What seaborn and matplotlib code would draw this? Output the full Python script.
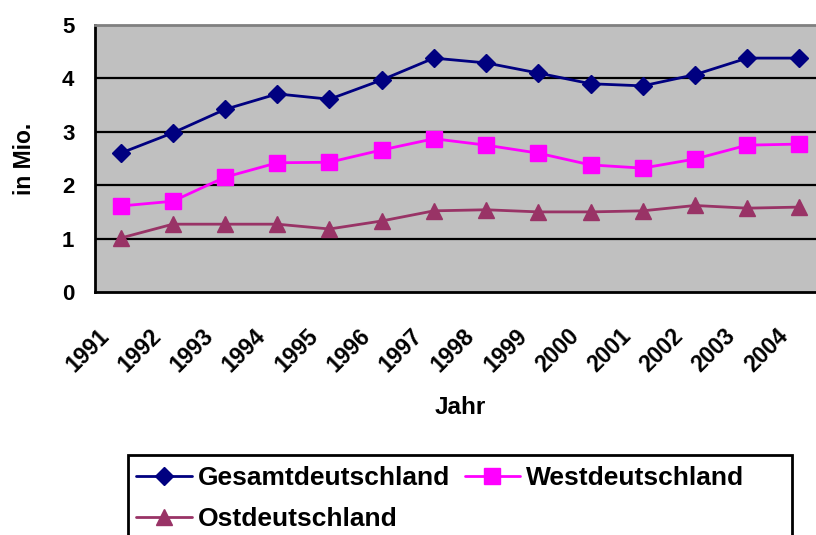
import numpy as np
import pandas as pd
import seaborn as sns
import matplotlib.pyplot as plt
from matplotlib.patches import Rectangle
from matplotlib.transforms import ScaledTranslation

years = ['1991', '1992', '1993', '1994', '1995', '1996', '1997',
         '1998', '1999', '2000', '2001', '2002', '2003', '2004']
gesamt = [2.60, 2.98, 3.42, 3.71, 3.61, 3.97, 4.38, 4.29, 4.10, 3.90, 3.86, 4.07, 4.38, 4.38]
west = [1.61, 1.70, 2.15, 2.42, 2.43, 2.66, 2.87, 2.75, 2.60, 2.38, 2.32, 2.49, 2.75, 2.77]
ost = [1.01, 1.27, 1.27, 1.27, 1.18, 1.33, 1.52, 1.54, 1.50, 1.50, 1.52, 1.62, 1.57, 1.59]

series = ['Gesamtdeutschland', 'Westdeutschland', 'Ostdeutschland']
colors = ['#000080', '#FF00FF', '#993366']
markers = ['D', 's', '^']
msizes = [9.5, 11, 11.5]

df = pd.DataFrame({'Jahr': years, 'Gesamtdeutschland': gesamt,
                   'Westdeutschland': west, 'Ostdeutschland': ost})
df['pos'] = np.arange(len(years))

sns.set_style('white')
plt.rcParams['font.family'] = ['Liberation Sans', 'DejaVu Sans']
plt.rcParams['font.weight'] = 'bold'
plt.rcParams['text.color'] = 'black'
plt.rcParams['axes.labelcolor'] = 'black'
plt.rcParams['xtick.color'] = 'black'
plt.rcParams['ytick.color'] = 'black'

fig = plt.figure(figsize=(8.16, 5.35), dpi=100)
ax = fig.add_axes([94.5 / 816, 243 / 535, 731 / 816, 267 / 535])
ax.set_facecolor('#C0C0C0')

for name, c, m, ms in zip(series, colors, markers, msizes):
    sns.lineplot(data=df, x='pos', y=name, ax=ax, color=c, marker=m,
                 markersize=ms, markeredgecolor=c, markeredgewidth=1,
                 linewidth=2, label=name)

ax.set_xlim(-0.5, len(years) - 0.5)
ax.set_ylim(0, 5)
ax.set_yticks([0, 1, 2, 3, 4, 5])
ax.set_yticklabels(['0', '1', '2', '3', '4', '5'], fontsize=16, fontweight='bold')
for y in [1, 2, 3, 4]:
    ax.axhline(y, color='black', lw=1.6, zorder=1)

ax.set_xticks(df['pos'])
ax.set_xticklabels(years, rotation=45, ha='right', va='center',
                   rotation_mode='anchor', fontsize=16.5, fontweight='bold')
ax.set_xticks(np.arange(len(years) + 1) - 0.5, minor=True)
ax.tick_params(axis='x', which='major', length=0, pad=29)
ax.tick_params(axis='x', which='minor', length=6, width=1.6, direction='out')
ax.tick_params(axis='y', length=6.5, width=1.6, direction='out', pad=8)
offset = ScaledTranslation(-15 / 100, 0, fig.dpi_scale_trans)
for lab in ax.get_xticklabels():
    lab.set_transform(lab.get_transform() + offset)

for s in ['left', 'bottom']:
    ax.spines[s].set_color('black')
    ax.spines[s].set_linewidth(2)
ax.spines['top'].set_color('#808080')
ax.spines['top'].set_linewidth(2)
ax.spines['right'].set_visible(False)

ax.set_xlabel('Jahr', fontsize=17.5, fontweight='bold')
ax.set_ylabel('in Mio.', fontsize=16.5, fontweight='bold')
ax.xaxis.set_label_coords(0.5, -0.39)
ax.yaxis.set_label_coords(-0.08, 0.5)

# column-major fill: Gesamt / Ost in column 1, West in column 2
handles, labels = ax.get_legend_handles_labels()
order = [0, 2, 1]
ax.legend([handles[i] for i in order], [labels[i] for i in order],
          loc='upper left', bbox_to_anchor=(128 / 816, 1 - 458 / 535),
          bbox_transform=fig.transFigure, ncol=2, frameon=False,
          prop={'size': 19, 'weight': 'bold'}, handlelength=2.1,
          handletextpad=0.23, columnspacing=0.55, labelspacing=0.63,
          borderpad=0.32, borderaxespad=0)
fig.patches.append(Rectangle((128 / 816, -0.05), 664 / 816, 80 / 535 + 0.05,
                             transform=fig.transFigure, fill=False,
                             lw=2, ec='black'))

fig.savefig('out.png', dpi=100)
